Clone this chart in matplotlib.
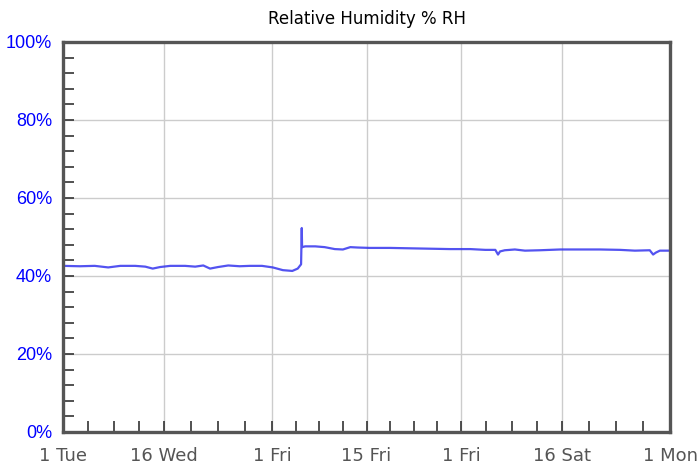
import numpy as np
import pandas as pd
import matplotlib
matplotlib.use("Agg")
import matplotlib.pyplot as plt
import matplotlib.dates as mdates
import matplotlib.ticker as mtick

# ---- data (day offset from 2019-01-01, % RH) ----
START = pd.Timestamp("2019-01-01")
DAYS = [0, 2.5, 4.7, 6.7, 8.5, 10.7, 12.2, 13.3, 14.4, 15.9, 18.1, 19.6, 20.8,
        21.8, 23.0, 24.5, 26.2, 27.7, 29.5, 31.1, 32.6, 34.0, 34.8, 35.3,
        35.4, 35.45, 35.9, 37.4, 38.8, 40.3, 41.5, 42.6, 43.7, 45.5, 48.5,
        51.4, 54.4, 57.4, 60.4, 62.6, 64.1, 64.5, 64.8, 65.5, 67.0, 68.5,
        70.7, 73.7, 76.7, 79.6, 82.6, 84.8, 87.0, 87.5, 87.9, 88.5, 90.0]
RH = [42.6, 42.5, 42.6, 42.2, 42.6, 42.6, 42.4, 41.9, 42.3, 42.6, 42.6, 42.4,
      42.7, 41.9, 42.3, 42.7, 42.5, 42.6, 42.6, 42.2, 41.5, 41.3, 41.9, 43.0,
      52.3, 47.4, 47.6, 47.6, 47.4, 46.9, 46.8, 47.4, 47.3, 47.2, 47.2,
      47.1, 47.0, 46.9, 46.9, 46.7, 46.7, 45.5, 46.3, 46.6, 46.8, 46.5,
      46.6, 46.8, 46.8, 46.8, 46.7, 46.5, 46.6, 45.5, 46.0, 46.5, 46.5]

MAJOR_DATES = ["2019-01-01", "2019-01-16", "2019-02-01", "2019-02-15",
               "2019-03-01", "2019-03-16", "2019-04-01"]
MAJOR_LABELS = ["1 Tue", "16 Wed", "1 Fri", "15 Fri", "1 Fri", "16 Sat", "1 Mon"]
Y_TICKS = [0, 20, 40, 60, 80, 100]

times = START + pd.to_timedelta(DAYS, unit="D")

fig = plt.figure(figsize=(6.99, 4.67), dpi=100)
ax = fig.add_axes([63 / 699, 35 / 467, 607 / 699, 390 / 467])

ax.plot(times, RH, color="#3535ee", linewidth=1.6, alpha=0.85)

# x axis
major = mdates.date2num(pd.to_datetime(MAJOR_DATES))
minor = np.concatenate([np.linspace(a, b, 5)[1:-1] for a, b in zip(major[:-1], major[1:])])
ax.set_xlim(major[0], major[-1])
ax.set_xticks(major)
ax.set_xticklabels(MAJOR_LABELS)
ax.set_xticks(minor, minor=True)

# y axis
ax.set_ylim(0, 100)
ax.set_yticks(Y_TICKS)
ax.yaxis.set_major_formatter(mtick.FormatStrFormatter("%d%%"))
ax.yaxis.set_minor_locator(mtick.MultipleLocator(4))

ax.grid(True, which="major", color="#cccccc", linewidth=1)
ax.set_axisbelow(True)

for s in ax.spines.values():
    s.set_color("#555555")
    s.set_linewidth(2.4)

ax.tick_params(axis="both", which="both", direction="in", length=8,
               width=1.2, color="#333333", top=False, right=False)
ax.tick_params(axis="x", which="major", labelsize=13, labelcolor="#555555", pad=11)
ax.tick_params(axis="y", which="major", labelsize=13, labelcolor="#0000ff", pad=8)
for lbl in ax.get_yticklabels():
    lbl.set_fontfamily("Liberation Sans")

ax.set_title("Relative Humidity % RH", fontsize=12, pad=13)

fig.savefig("out.png", dpi=100)
